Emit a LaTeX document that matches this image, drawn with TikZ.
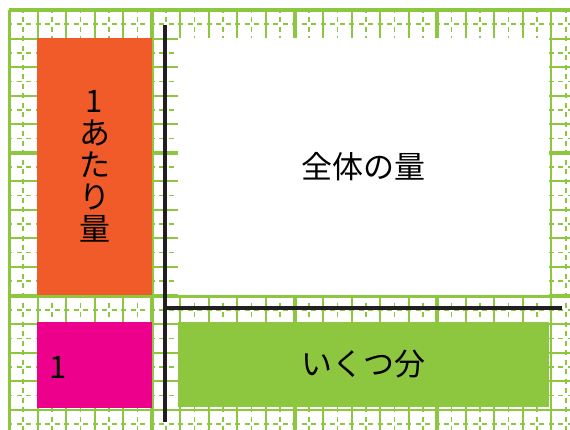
\documentclass[tikz,border=0pt]{standalone}
\usepackage{fontspec}
\newfontfamily\jpfont{Noto Sans CJK JP}
\definecolor{gridgreen}{HTML}{8DC63F}
\definecolor{rateorange}{HTML}{F15A29}
\definecolor{unitpink}{HTML}{EC008C}
\definecolor{axisblack}{HTML}{231F20}
\begin{document}
\begin{tikzpicture}[x=1pt, y=-1pt]
            \tikzset{
                gridline/.style={gridgreen, line width=2pt},
                gridthick/.style={gridgreen, line width=4pt},
                guide/.style={gridgreen, line width=1.6pt, dash pattern=on 5pt off 4.5pt, dash phase=2pt},
                box/.style={inner sep=0pt, anchor=center, font=\jpfont\fontsize{31}{32}\selectfont, align=center},
                axis/.style={axisblack, line width=4.5pt}
            };
            \useasboundingbox (0, 0) rectangle (570, 430);
            \fill[white] (0, 0) rectangle (570, 430);
            % squared paper
            \begin{scope}
                \clip (8, 9) rectangle (570, 430);
                \foreach \i in {0,...,19} {
                    \draw[guide] ({9 + 28.55*(\i + 0.5)}, 10) -- ({9 + 28.55*(\i + 0.5)}, 430);
                }
                \foreach \j in {0,...,14} {
                    \draw[guide] (9, {10 + 28.55*(\j + 0.5)}) -- (570, {10 + 28.55*(\j + 0.5)});
                }
                \foreach \i in {0,...,19} {
                    \pgfmathtruncatemacro{\r}{mod(\i, 5)}
                    \ifnum\r=0
                        \draw[gridthick] ({9 + 28.55*\i}, 10) -- ({9 + 28.55*\i}, 430);
                    \else
                        \draw[gridline] ({9 + 28.55*\i}, 10) -- ({9 + 28.55*\i}, 430);
                    \fi
                }
                \foreach \j in {0,...,14} {
                    \pgfmathtruncatemacro{\r}{mod(\j, 5)}
                    \ifnum\r=0
                        \draw[gridthick] (9, {10 + 28.55*\j}) -- (570, {10 + 28.55*\j});
                    \else
                        \draw[gridline] (9, {10 + 28.55*\j}) -- (570, {10 + 28.55*\j});
                    \fi
                }
            \end{scope}
            % boxes
            \node[box, fill=rateorange, minimum width=115pt, minimum height=257pt] (rate) at (94.5, 166.5) {1\\あ\\た\\り\\量};
            \node[box, fill=unitpink, minimum width=115pt, minimum height=86pt] (unit) at (94.5, 365) {};
            \node[box] (one) at (58, 367) {1};
            \node[box, fill=white, minimum width=371pt, minimum height=257pt] (total) at (363.5, 166.5) {全体の量};
            \node[box, fill=gridgreen, minimum width=371pt, minimum height=85pt] (count) at (363.5, 364.5) {いくつ分};
            % axes
            \coordinate (top) at (165, 25);
            \coordinate (origin) at (165, 308);
            \coordinate (bottom) at (165, 422);
            \coordinate (right) at (562, 308);
            \draw[axis] (top) -- (bottom);
            \draw[axis] (origin) -- (right);
        \end{tikzpicture}
\end{document}
